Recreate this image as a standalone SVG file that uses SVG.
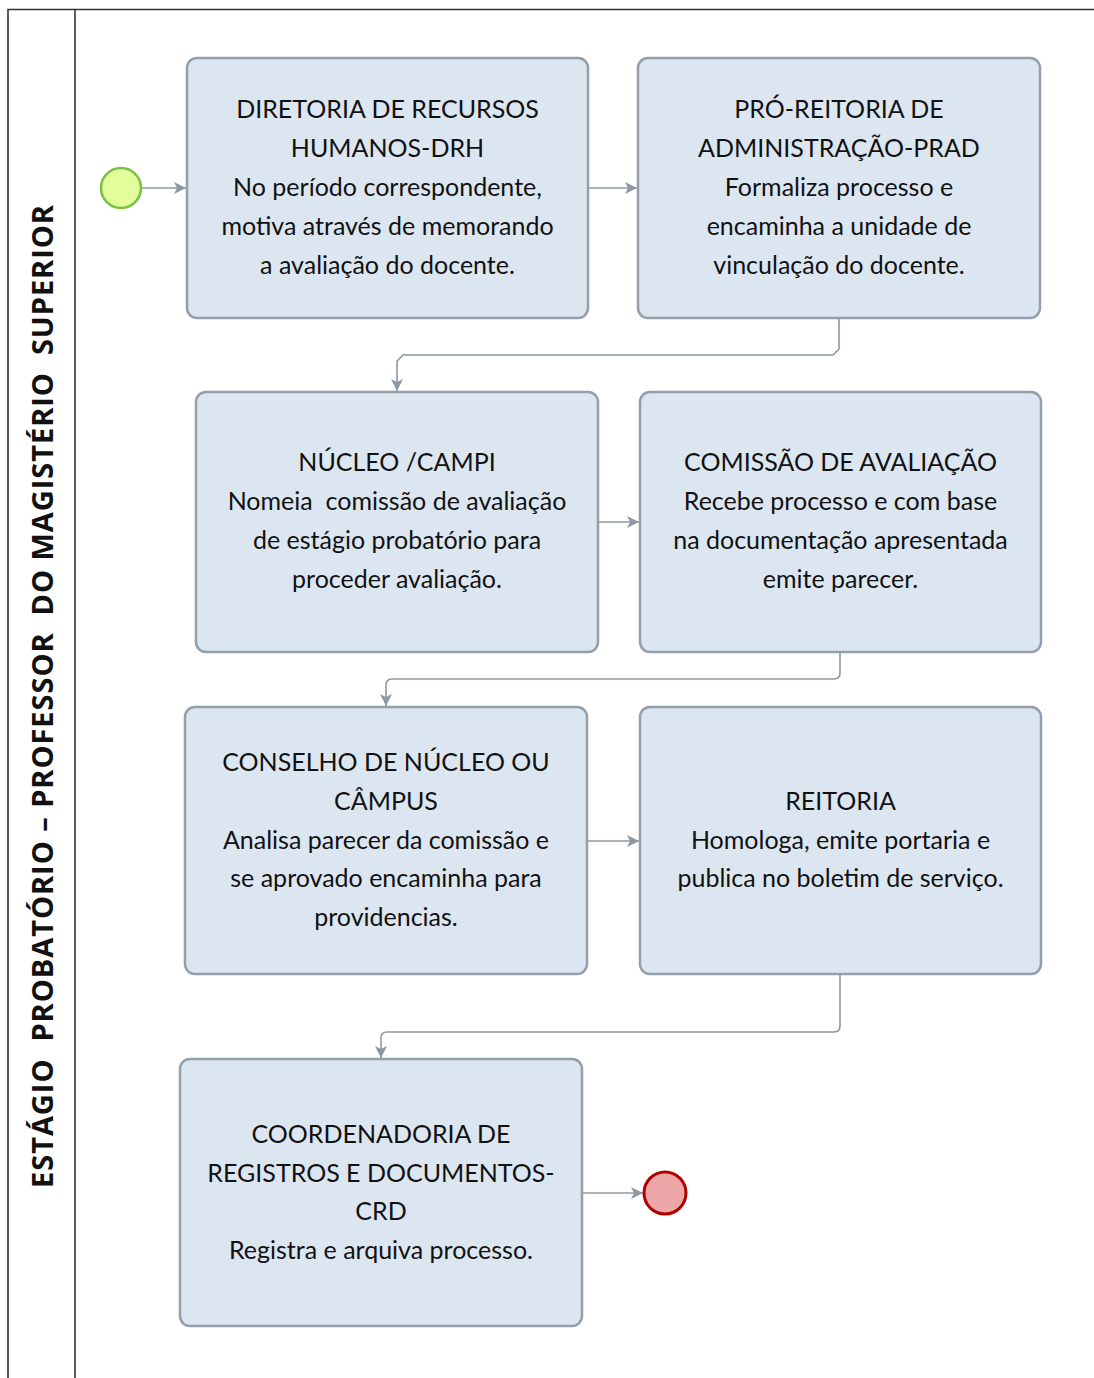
<svg xmlns="http://www.w3.org/2000/svg" width="1094" height="1378" viewBox="0 0 1094 1378">
<defs>
<style>
.frame{fill:none;stroke:#333;stroke-width:1.6}
.box{fill:#dce6f1;stroke:#959fab;stroke-width:2.5}
.t{font-family:Lato,"Open Sans",sans-serif;font-size:25px;fill:#111;text-anchor:middle}
.title{font-family:"Open Sans","DejaVu Sans",sans-serif;font-weight:bold;font-size:29px;fill:#111;text-anchor:middle;white-space:pre}
.c{fill:none;stroke:#8e98a5;stroke-width:1.6}
</style>
<marker id="ah" markerWidth="14" markerHeight="14" refX="12" refY="7" orient="auto" markerUnits="userSpaceOnUse">
<path d="M0,1 L12,7 L0,13 L3,7 Z" fill="#8e98a5"/>
</marker>
</defs>
<rect width="1094" height="1378" fill="#fff"/>
<g id="pool">
<path class="frame" d="M8,1378 L8,9.5 L1094,9.5"/>
<line class="frame" x1="75" y1="9.5" x2="75" y2="1378"/>
<text class="title" xml:space="preserve" textLength="983" lengthAdjust="spacing" transform="translate(53,696.5) rotate(-90)">ESTÁGIO  PROBATÓRIO – PROFESSOR  DO MAGISTÉRIO  SUPERIOR</text>
</g>
<g id="connectors">
<line class="c" x1="141" y1="188" x2="186" y2="188" marker-end="url(#ah)"/>
<line class="c" x1="588" y1="188" x2="637" y2="188" marker-end="url(#ah)"/>
<path class="c" d="M839,318 L839,349 L833,355 L403,355 L397,361 L397,391" marker-end="url(#ah)"/>
<line class="c" x1="598" y1="522" x2="639" y2="522" marker-end="url(#ah)"/>
<path class="c" d="M840,652 L840,673 Q840,679 834,679 L392,679 Q386,679 386,685 L386,706" marker-end="url(#ah)"/>
<line class="c" x1="587" y1="841" x2="639" y2="841" marker-end="url(#ah)"/>
<path class="c" d="M840,974 L840,1026 Q840,1032 834,1032 L387,1032 Q381,1032 381,1038 L381,1058" marker-end="url(#ah)"/>
<line class="c" x1="582" y1="1193" x2="643" y2="1193" marker-end="url(#ah)"/>
</g>
<g id="start">
<circle cx="121" cy="188" r="20" fill="#e4fd9c" stroke="#79c13f" stroke-width="2.5"/>
</g>
<g id="end">
<circle cx="665" cy="1193" r="21" fill="#eea7a8" stroke="#b20000" stroke-width="3"/>
</g>
<g id="drh">
<rect class="box" x="187" y="58" width="401" height="260" rx="10"/>
<text class="t" x="387.5" y="118">DIRETORIA DE RECURSOS</text>
<text class="t" x="387.5" y="157">HUMANOS-DRH</text>
<text class="t" x="387.5" y="196">No período correspondente,</text>
<text class="t" x="387.5" y="235">motiva através de memorando</text>
<text class="t" x="387.5" y="274">a avaliação do docente.</text>
</g>
<g id="prad">
<rect class="box" x="638" y="58" width="402" height="260" rx="10"/>
<text class="t" x="839" y="118">PRÓ-REITORIA DE</text>
<text class="t" x="839" y="157">ADMINISTRAÇÃO-PRAD</text>
<text class="t" x="839" y="196">Formaliza processo e</text>
<text class="t" x="839" y="235">encaminha a unidade de</text>
<text class="t" x="839" y="274">vinculação do docente.</text>
</g>
<g id="nucleo">
<rect class="box" x="196" y="392" width="402" height="260" rx="10"/>
<text class="t" x="397" y="471">NÚCLEO /CAMPI</text>
<text class="t" x="397" y="510" xml:space="preserve">Nomeia  comissão de avaliação</text>
<text class="t" x="397" y="549">de estágio probatório para</text>
<text class="t" x="397" y="588">proceder avaliação.</text>
</g>
<g id="comissao">
<rect class="box" x="640" y="392" width="401" height="260" rx="10"/>
<text class="t" x="840.5" y="471">COMISSÃO DE AVALIAÇÃO</text>
<text class="t" x="840.5" y="510">Recebe processo e com base</text>
<text class="t" x="840.5" y="549">na documentação apresentada</text>
<text class="t" x="840.5" y="588">emite parecer.</text>
</g>
<g id="conselho">
<rect class="box" x="185" y="707" width="402" height="267" rx="10"/>
<text class="t" x="386" y="771">CONSELHO DE NÚCLEO OU</text>
<text class="t" x="386" y="810">CÂMPUS</text>
<text class="t" x="386" y="849">Analisa parecer da comissão e</text>
<text class="t" x="386" y="887">se aprovado encaminha para</text>
<text class="t" x="386" y="926">providencias.</text>
</g>
<g id="reitoria">
<rect class="box" x="640" y="707" width="401" height="267" rx="10"/>
<text class="t" x="840.5" y="810">REITORIA</text>
<text class="t" x="840.5" y="849">Homologa, emite portaria e</text>
<text class="t" x="840.5" y="887">publica no boletim de serviço.</text>
</g>
<g id="crd">
<rect class="box" x="180" y="1059" width="402" height="267" rx="10"/>
<text class="t" x="381" y="1143">COORDENADORIA DE</text>
<text class="t" x="381" y="1182">REGISTROS E DOCUMENTOS-</text>
<text class="t" x="381" y="1220">CRD</text>
<text class="t" x="381" y="1259">Registra e arquiva processo.</text>
</g>
</svg>
